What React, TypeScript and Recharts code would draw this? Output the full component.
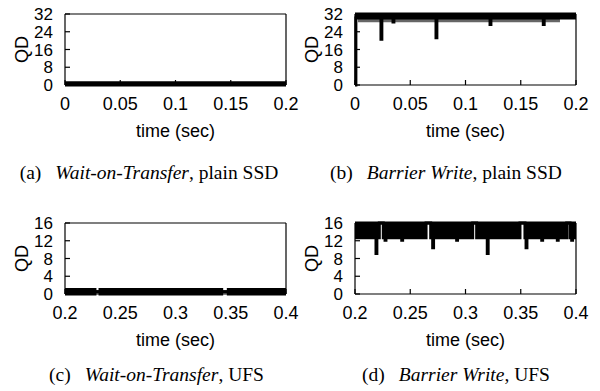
import { ComposedChart, Area, XAxis, YAxis, Label } from "recharts";

// (a) Wait-on-Transfer, plain SSD: QD stays at 0..1
const aTime = [0, 0.2];
const aLow = [0, 0];
const aHigh = [1, 1];

// (b) Barrier Write, plain SSD: QD pinned near 32 with a few dips
const bTime = [0, 0.0008, 0.0027, 0.0235, 0.0243, 0.0344, 0.0352, 0.0733, 0.0741, 0.1222, 0.123, 0.1704, 0.1712, 0.1855, 0.2];
const bLow = [0, 30.2, 30.2, 20.6, 30.2, 28.4, 30.2, 21.3, 30.2, 27.3, 30.2, 27.3, 30.2, 30.2, 30.2];
const bHigh = [32, 32, 32, 32, 32, 32, 32, 32, 32, 32, 32, 32, 32, 32, 32];
const bFringeSpan = [0.0027, 0.1855];
const bFringeRange: [number, number] = [28.3, 30.2];

// (c) Wait-on-Transfer, UFS
const cTime = [0.2, 0.2271, 0.2317, 0.3418, 0.3478, 0.4];
const cLow = [0, 0.5, 0, 0.5, 0, 0];
const cHigh = [1, 0.5, 1, 0.5, 1, 1];

// (d) Barrier Write, UFS: QD between ~13 and 16, short gaps and dips
const dTime = [0.2, 0.219, 0.2198, 0.222, 0.2256, 0.2272, 0.228, 0.2423, 0.2431, 0.2643, 0.2685, 0.2703, 0.2711, 0.292, 0.2928, 0.3065, 0.3101, 0.3197, 0.3205, 0.3493, 0.3538, 0.3548, 0.3556, 0.369, 0.3698, 0.3831, 0.3839, 0.3916, 0.3946, 0.3961, 0.3969, 0.4];
const dLow = [12.7, 9.1, 12.7, 16, 12.7, 12.1, 12.7, 12.1, 12.7, 16, 12.7, 10.4, 12.7, 12.1, 12.7, 16, 12.7, 9.1, 12.7, 16, 12.7, 10.4, 12.7, 12.1, 12.7, 12.1, 12.7, 16, 12.7, 12.1, 12.7, 12.7];
const dHigh = [16, 16, 16, 16, 16, 16, 16, 16, 16, 16, 16, 16, 16, 16, 16, 16, 16, 16, 16, 16, 16, 16, 16, 16, 16, 16, 16, 16, 16, 16, 16, 16];

const ssdTicks = [0, 0.05, 0.1, 0.15, 0.2];
const ufsTicks = [0.2, 0.25, 0.3, 0.35, 0.4];
const ssdQdTicks = [0, 8, 16, 24, 32];
const ufsQdTicks = [0, 4, 8, 12, 16];

const captionTags = ["(a)", "(b)", "(c)", "(d)"];
const captionTitles = ["Wait-on-Transfer", "Barrier Write", "Wait-on-Transfer", "Barrier Write"];
const captionRest = [", plain SSD", ", plain SSD", ", UFS", ", UFS"];

const SANS = "'Liberation Sans', Arial, Helvetica, sans-serif";
const SERIF = "'Liberation Serif', 'Times New Roman', serif";

type Row = { t: number; qd: [number, number]; fringe: [number, number] | null };

function buildRows(time: number[], low: number[], high: number[], span?: number[], fringe?: [number, number]): Row[] {
  return time.map((t, i) => ({
    t,
    qd: [low[i], high[i]],
    fringe: span && fringe && t >= span[0] && t <= span[1] ? fringe : null,
  }));
}

const lineStyle = { stroke: "#000", strokeWidth: 1.2 };
const xTickStyle = { fontSize: 18, fill: "#000", fontFamily: SANS };
const yTickStyle = { fontSize: 17, fill: "#000", fontFamily: SANS };

const XTitle = () => (
  <text x={175.5} y={136.5} textAnchor="middle" fontSize={18} fontFamily={SANS} fill="#000">
    time (sec)
  </text>
);

const YTitle = () => (
  <text
    x={22}
    y={49.5}
    transform="rotate(-90 22 49.5)"
    textAnchor="middle"
    dominantBaseline="central"
    fontSize={18}
    fontFamily={SANS}
    fill="#000"
  >
    QD
  </text>
);

interface PanelProps {
  rows: Row[];
  xDomain: [number, number];
  xTicks: number[];
  yMax: number;
  yTicks: number[];
  left: number;
  top: number;
  fringe?: boolean;
}

function Panel({ rows, xDomain, xTicks, yMax, yTicks, left, top, fringe }: PanelProps) {
  return (
    <div style={{ position: "absolute", left, top }}>
      <ComposedChart width={300} height={150} data={rows} margin={{ top: 13, right: 13, bottom: 0, left: 0 }}>
        <XAxis
          xAxisId="b"
          dataKey="t"
          type="number"
          domain={xDomain}
          ticks={xTicks}
          interval={0}
          height={65}
          tickSize={-5}
          tickMargin={17}
          tick={xTickStyle}
          axisLine={lineStyle}
          tickLine={lineStyle}
        >
          <Label content={XTitle} />
        </XAxis>
        <XAxis
          xAxisId="t"
          orientation="top"
          dataKey="t"
          type="number"
          domain={xDomain}
          ticks={xTicks}
          interval={0}
          height={1}
          tickSize={-5}
          tick={false}
          axisLine={lineStyle}
          tickLine={lineStyle}
        />
        <YAxis
          yAxisId="l"
          type="number"
          domain={[0, yMax]}
          ticks={yTicks}
          interval={0}
          width={65}
          tickSize={-5}
          tickMargin={17}
          tick={yTickStyle}
          axisLine={lineStyle}
          tickLine={lineStyle}
        >
          <Label content={YTitle} />
        </YAxis>
        <YAxis
          yAxisId="r"
          orientation="right"
          type="number"
          domain={[0, yMax]}
          ticks={yTicks}
          interval={0}
          width={1}
          tickSize={-5}
          tick={false}
          axisLine={lineStyle}
          tickLine={lineStyle}
        />
        {fringe && (
          <Area
            xAxisId="b"
            yAxisId="l"
            dataKey="fringe"
            type="stepAfter"
            stroke="none"
            fill="#000"
            fillOpacity={0.6}
            dot={false}
            activeDot={false}
            isAnimationActive={false}
          />
        )}
        <Area
          xAxisId="b"
          yAxisId="l"
          dataKey="qd"
          type="stepAfter"
          stroke="#000"
          strokeWidth={3}
          fill="#000"
          fillOpacity={1}
          dot={false}
          activeDot={false}
          isAnimationActive={false}
        />
      </ComposedChart>
    </div>
  );
}

const captionX = [149, 446, 156.5, 456];
const captionY = [179, 179, 380.5, 380.5];

export default function App() {
  const aRows = buildRows(aTime, aLow, aHigh);
  const bRows = buildRows(bTime, bLow, bHigh, bFringeSpan, bFringeRange);
  const cRows = buildRows(cTime, cLow, cHigh);
  const dRows = buildRows(dTime, dLow, dHigh);

  return (
    <div style={{ position: "absolute", left: 0, top: 0, width: 600, height: 391, background: "#fff" }}>
      <svg width={600} height={391} style={{ position: "absolute", left: 0, top: 0 }}>
        {captionTags.map((tag, i) => (
          <text key={tag} x={captionX[i]} y={captionY[i]} textAnchor="middle" fontSize={19.5} fontFamily={SERIF} fill="#000">
            {tag}
            <tspan dx={14} fontStyle="italic">
              {captionTitles[i]}
            </tspan>
            {captionRest[i]}
          </text>
        ))}
      </svg>
      <Panel rows={aRows} xDomain={[0, 0.2]} xTicks={ssdTicks} yMax={32} yTicks={ssdQdTicks} left={0} top={0} />
      <Panel rows={bRows} xDomain={[0, 0.2]} xTicks={ssdTicks} yMax={32} yTicks={ssdQdTicks} left={290} top={0} fringe />
      <Panel rows={cRows} xDomain={[0.2, 0.4]} xTicks={ufsTicks} yMax={16} yTicks={ufsQdTicks} left={0} top={209} />
      <Panel rows={dRows} xDomain={[0.2, 0.4]} xTicks={ufsTicks} yMax={16} yTicks={ufsQdTicks} left={290} top={209} />
    </div>
  );
}
